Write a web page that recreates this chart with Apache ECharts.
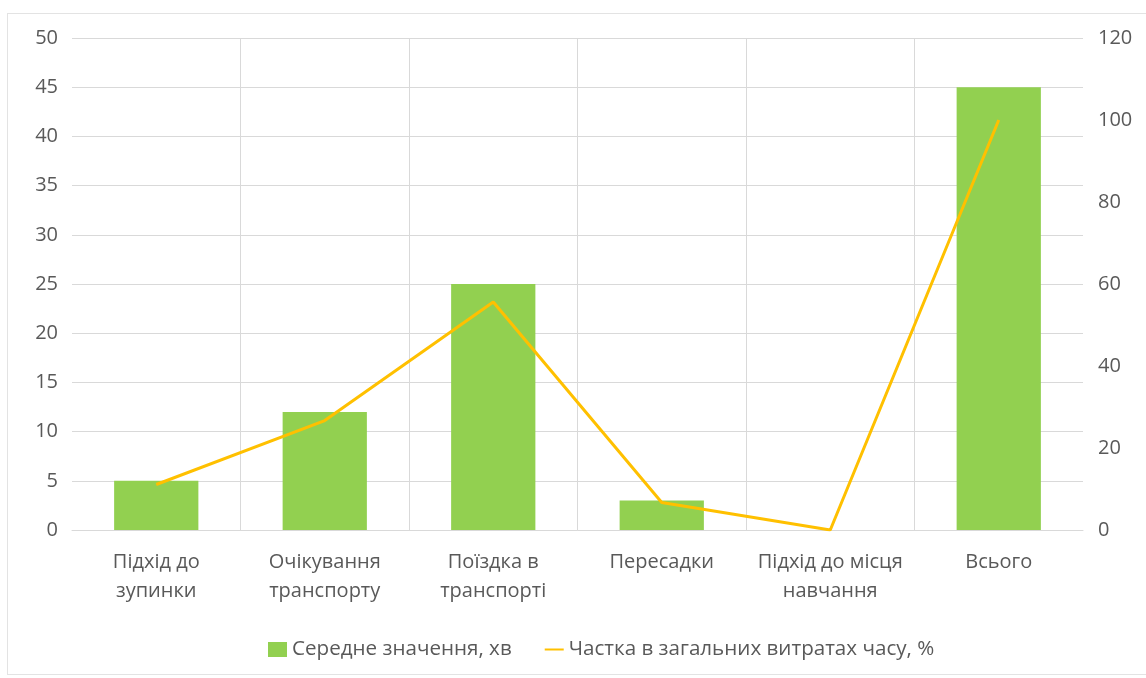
<!DOCTYPE html>
<html><head><meta charset="utf-8">
<script src="https://cdn.jsdelivr.net/npm/echarts@6/dist/echarts.min.js"></script>
<style>
html,body{margin:0;padding:0;background:#fff;}
#frame{position:absolute;left:7px;top:13px;width:1150px;height:662px;border:1px solid #e3e3e3;box-sizing:border-box;}
#c{position:absolute;left:0;top:0;width:1146px;height:678px;}
</style>
</head><body>
<div id="frame"></div>
<div id="c"></div>
<script>
const categories = ["Підхід до\nзупинки","Очікування\nтранспорту","Поїздка в\nтранспорті","Пересадки","Підхід до місця\nнавчання","Всього"];
const avgMinutes = [5, 12, 25, 3, 0, 45];
const sharePercent = [11.1, 26.7, 55.6, 6.7, 0, 100];
const seriesNames = ["Середне значення, хв", "Частка в загальних витратах часу, %"];

const font = "Open Sans";
const fs = 20;
const chart = echarts.init(document.getElementById('c'));
chart.setOption({
  animation:false,
  textStyle:{fontFamily:font},
  grid:{left:72,right:63,top:38,bottom:148,containLabel:false},
  legend:{
    top:634, left:263, itemGap:32, itemWidth:19, itemHeight:15,
    textStyle:{fontFamily:font,fontSize:20.6,color:'#595959'},
    data:[{name:seriesNames[0],icon:'rect'},{name:seriesNames[1],itemStyle:{opacity:0}}]
  },
  xAxis:{
    type:'category', data:categories, boundaryGap:true,
    axisLine:{show:true,lineStyle:{color:'#d9d9d9'}},
    axisTick:{show:false},
    splitLine:{show:true,interval:0,showMinLine:false,showMaxLine:false,lineStyle:{color:'#d9d9d9',width:1}},
    axisLabel:{interval:0,color:'#595959',fontSize:fs,lineHeight:29,margin:18,fontFamily:font}
  },
  yAxis:[
    {type:'value',min:0,max:50,interval:5,
     axisLine:{show:false},axisTick:{show:false},
     splitLine:{lineStyle:{color:'#d9d9d9'}},
     axisLabel:{color:'#595959',fontSize:fs,margin:14,fontFamily:font}},
    {type:'value',min:0,max:120,interval:20,position:'right',
     axisLine:{show:false},axisTick:{show:false},splitLine:{show:false},
     axisLabel:{color:'#595959',fontSize:fs,margin:15,fontFamily:font}}
  ],
  series:[
    {name:seriesNames[0],type:'bar',data:avgMinutes,barWidth:'50%',
     itemStyle:{color:'#92D050'},yAxisIndex:0},
    {name:seriesNames[1],type:'line',data:sharePercent,yAxisIndex:1,
     symbol:'none',lineStyle:{color:'#FFC000',width:3},itemStyle:{color:'#FFC000'}}
  ]
});
</script>
</body></html>
